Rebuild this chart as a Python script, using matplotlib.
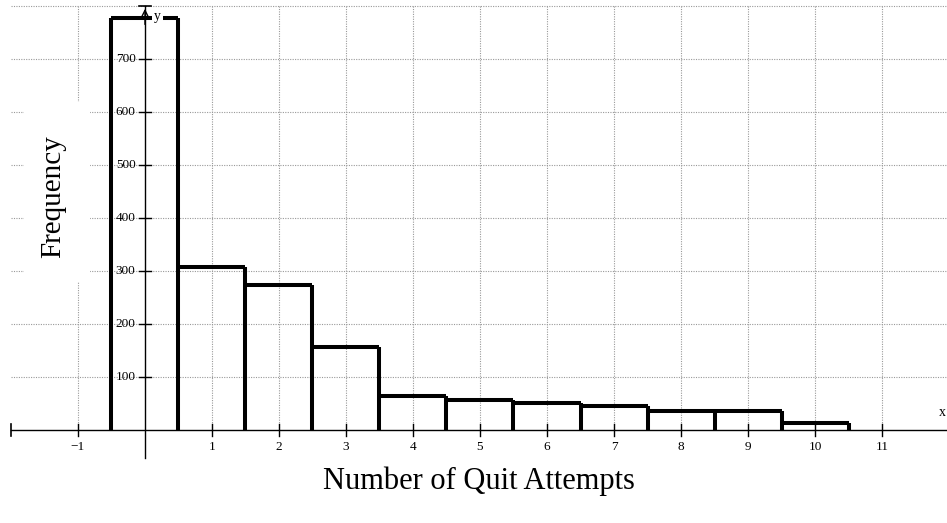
import numpy as np
import matplotlib
matplotlib.use("Agg")
import matplotlib.pyplot as plt
from matplotlib.patches import Rectangle

plt.rcParams['font.family'] = ['Liberation Serif', 'DejaVu Serif']

# Number of quit attempts and how often each occurred
attempts = [0, 1, 2, 3, 4, 5, 6, 7, 8, 9, 10]
frequency = [778, 307, 274, 156, 65, 57, 50, 46, 35, 35, 13]

x_ticks = [-1, 1, 2, 3, 4, 5, 6, 7, 8, 9, 10, 11]
y_ticks = [100, 200, 300, 400, 500, 600, 700]

W, H = 947, 523
fig = plt.figure(figsize=(W / 100, H / 100), dpi=100)
ax = fig.add_axes([0, 0, 1, 1])
ax.set_xlim(-2.164, 11.97)
ax.set_ylim(-175.5, 811.3)
ax.axis('off')

# dotted grid (only the upper half plane)
grid_kw = dict(color='0.6', lw=0.8, linestyle=(0, (1, 1.2)), zorder=1)
for gy in range(100, 900, 100):
    ax.plot([-2, 12], [gy, gy], **grid_kw)
for gx in range(-1, 12):
    if gx != 0:
        ax.plot([gx, gx], [0, 800], **grid_kw)

# axes with end bars and arrowheads
ax.plot([-2, 12], [0, 0], color='black', lw=1, zorder=3)
ax.plot([0, 0], [-53, 800], color='black', lw=1, zorder=3)
ax.plot([-2, -2], [-11, 11], color='black', lw=1.2, zorder=3)
ax.plot([-0.09, 0.09], [800, 800], color='black', lw=1.2, zorder=3)
ax.annotate('', xy=(12, 0), xytext=(11.6, 0),
            arrowprops=dict(arrowstyle='->', lw=1, color='black', mutation_scale=14))
ax.annotate('', xy=(0, 800), xytext=(0, 760),
            arrowprops=dict(arrowstyle='->', lw=1, color='black', mutation_scale=14))

# ticks
for t in x_ticks:
    ax.plot([t, t], [-11, 11], color='black', lw=1, zorder=3)
    ax.text(t, -33, '\u2212' + str(-t) if t < 0 else str(t), ha='center', va='center', fontsize=9.5)
for t in y_ticks:
    ax.plot([-0.09, 0.09], [t, t], color='black', lw=1, zorder=3)
    ax.text(-0.14, t, str(t), ha='right', va='center', fontsize=9.5)

# histogram outline: full-height sides, thick tops, no bottom edge
edges = np.array(attempts + [attempts[-1] + 1]) - 0.5
padded = [0] + frequency + [0]
side_heights = [max(padded[i], padded[i + 1]) for i in range(len(edges))]
ax.vlines(edges, 0, side_heights, color='black', lw=2.9, zorder=4)
ax.hlines(frequency, edges[:-1], edges[1:], color='black', lw=2.9, zorder=4)

# axis names
ax.text(0.19, 780, 'y', ha='center', va='center', fontsize=10, zorder=6,
        bbox=dict(boxstyle='square,pad=0.15', fc='white', ec='none'))
ax.text(11.9, 33, 'x', ha='center', va='center', fontsize=10)

# white box behind the vertical label
ax.add_patch(Rectangle((24 / W, 1 - 282 / H), 66 / W, 180 / H, transform=fig.transFigure,
                       fc='white', ec='none', zorder=5))
fig.text(53 / W, 1 - 197 / H, 'Frequency', rotation=90, ha='center', va='center',
         fontsize=21, zorder=6)
fig.text(479 / W, 1 - 481 / H, 'Number of Quit Attempts', ha='center', va='center',
         fontsize=22)

fig.savefig('out.png', dpi=100)
